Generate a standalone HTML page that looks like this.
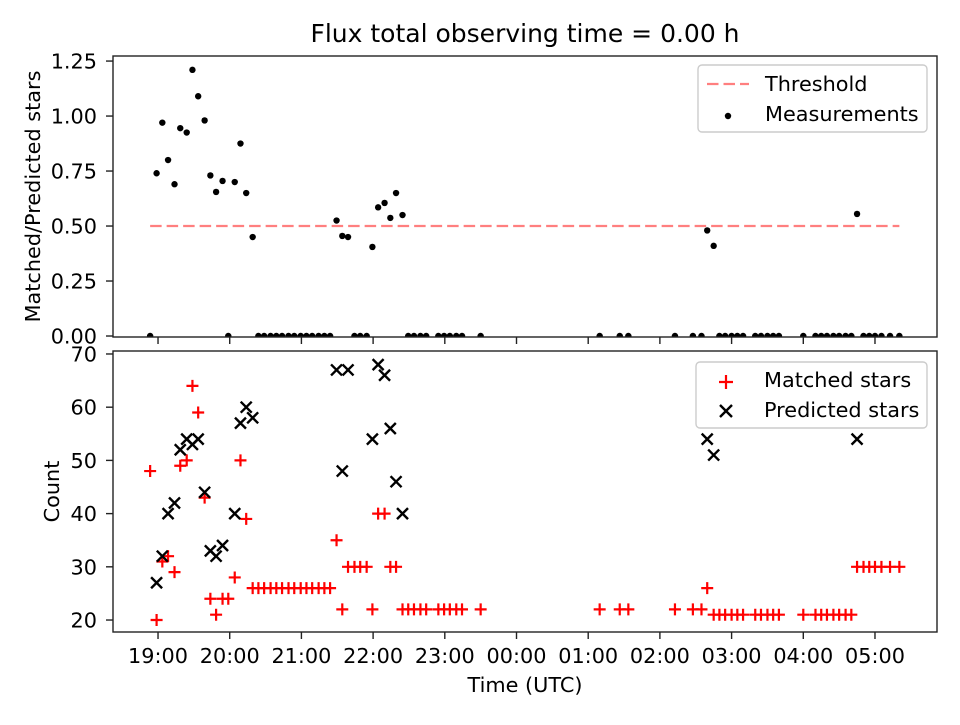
<!DOCTYPE html>
<html><head><meta charset="utf-8"><style>
body{margin:0;background:#fff}
svg{font-family:"DejaVu Sans","Liberation Sans",sans-serif}
</style></head><body>
<svg id="chart" width="960" height="720" xmlns="http://www.w3.org/2000/svg"></svg>
<script>
const times=[18.89,18.98,19.06,19.14,19.23,19.31,19.40,19.48,19.56,19.65,19.73,19.81,19.90,19.98,20.07,20.15,20.23,20.32,
20.40,20.48,20.57,20.65,20.73,20.82,20.90,20.99,21.07,21.15,21.24,21.32,21.40,
21.49,21.57,21.65,21.74,21.82,21.91,21.99,22.07,22.16,22.24,22.32,22.41,
22.49,22.57,22.66,22.74,22.91,22.99,23.07,23.16,23.24,23.50,
25.16,25.44,25.56,26.21,26.46,26.58,26.66,26.75,26.83,26.91,27.00,27.08,27.16,
27.33,27.41,27.50,27.58,27.66,28.00,28.17,28.25,28.33,28.42,28.50,28.59,28.67,
28.75,28.84,28.92,29.00,29.09,29.21,29.34];
const ratios=[0,0.74,0.97,0.80,0.69,0.945,0.925,1.21,1.09,0.98,0.73,0.655,0.705,0,0.70,0.875,0.65,0.45,
0,0,0,0,0,0,0,0,0,0,0,0,0,
0.525,0.455,0.45,0,0,0,0.405,0.585,0.605,0.537,0.65,0.55,
0,0,0,0,0,0,0,0,0,0,
0,0,0,0,0,0,0.48,0.41,0,0,0,0,0,
0,0,0,0,0,0,0,0,0,0,0,0,0,
0.555,0,0,0,0,0,0];
const matched=[48,20,31,32,29,49,50,64,59,43,24,21,24,24,28,50,39,26,
26,26,26,26,26,26,26,26,26,26,26,26,26,
35,22,30,30,30,30,22,40,40,30,30,22,
22,22,22,22,22,22,22,22,22,22,
22,22,22,22,22,22,26,21,21,21,21,21,21,
21,21,21,21,21,21,21,21,21,21,21,21,21,
30,30,30,30,30,30,30];
const predicted=[null,27,32,40,42,52,54,53,54,44,33,32,34,null,40,57,60,58,
null,null,null,null,null,null,null,null,null,null,null,null,null,
67,48,67,null,null,null,54,68,66,56,46,40,
null,null,null,null,null,null,null,null,null,null,
null,null,null,null,null,null,54,51,null,null,null,null,null,
null,null,null,null,null,null,null,null,null,null,null,null,null,
54,null,null,null,null,null,null];
const xTicks=[19,20,21,22,23,24,25,26,27,28,29];
const xTickLabels=["19:00","20:00","21:00","22:00","23:00","00:00","01:00","02:00","03:00","04:00","05:00"];
const topTicks=[0,0.25,0.5,0.75,1.0,1.25];
const topTickLabels=["0.00","0.25","0.50","0.75","1.00","1.25"];
const botTicks=[20,30,40,50,60,70];
const threshold=0.5;

const NS="http://www.w3.org/2000/svg";
const svg=document.getElementById('chart');
function mk(tag,attrs,parent){const e=document.createElementNS(NS,tag);for(const k in attrs)e.setAttribute(k,attrs[k]);(parent||svg).appendChild(e);return e;}
const L=113,R=937,T1=56,B1=337,T2=351,B2=632;
const xMin=18.372,xMax=29.865;
const X=t=>L+(t-xMin)/(xMax-xMin)*(R-L);
const Y1=v=>B1-(v-(-0.0045))/(1.273+0.0045)*(B1-T1);
const Y2=v=>B2-(v-17.75)/(70.56-17.75)*(B2-T2);
const FS=20.8;

const defs=mk('defs',{});
const c1=mk('clipPath',{id:'c1'},defs);mk('rect',{x:L,y:T1,width:R-L,height:B1-T1},c1);
const c2=mk('clipPath',{id:'c2'},defs);mk('rect',{x:L,y:T2,width:R-L,height:B2-T2},c2);

let t=mk('text',{x:525,y:42,'font-size':25,'text-anchor':'middle'});t.textContent='Flux total observing time = 0.00 h';



const g1=mk('g',{'clip-path':'url(#c1)'});


let th=mk('line',{x1:X(times[0]),x2:X(times[times.length-1]),y1:Y1(threshold),y2:Y1(threshold),stroke:'#ff7f7f','stroke-width':2.2,'stroke-dasharray':'11.5,5'},g1);


times.forEach((tm,i)=>{
  const c=mk('circle',{cx:X(tm),cy:Y1(ratios[i]),r:3.2,fill:'#000'},g1);
  
  
});
const g2=mk('g',{'clip-path':'url(#c2)'});


times.forEach((tm,i)=>{
  const x=X(tm),y=Y2(matched[i]);
  const p=mk('path',{d:`M${x-6},${y}H${x+6}M${x},${y-6}V${y+6}`,stroke:'#ff0000','stroke-width':2.2,fill:'none'},g2);
  
  
});
times.forEach((tm,i)=>{
  if(predicted[i]===null)return;
  const x=X(tm),y=Y2(predicted[i]);
  const p=mk('path',{d:`M${x-5.5},${y-5.5}L${x+5.5},${y+5.5}M${x-5.5},${y+5.5}L${x+5.5},${y-5.5}`,stroke:'#000','stroke-width':2.4,fill:'none'},g2);
  
  
});

[[T1,B1,'top-axes-frame'],[T2,B2,'bottom-axes-frame']].forEach(([a,b,n])=>{
  const r=mk('rect',{x:L,y:a,width:R-L,height:b-a,fill:'none',stroke:'#222','stroke-width':1.4});
  
  
});
xTicks.forEach((v,i)=>{
  const x=X(v);
  mk('line',{x1:x,x2:x,y1:B1,y2:B1+7,stroke:'#222','stroke-width':1.4});
  mk('line',{x1:x,x2:x,y1:B2,y2:B2+7,stroke:'#222','stroke-width':1.4});
  const tx=mk('text',{x:x,y:B2+31,'font-size':FS,'text-anchor':'middle'});tx.textContent=xTickLabels[i];
  
  
});
topTicks.forEach((v,i)=>{
  const y=Y1(v);
  mk('line',{x1:L-7,x2:L,y1:y,y2:y,stroke:'#222','stroke-width':1.4});
  const tx=mk('text',{x:L-16,y:y+7.5,'font-size':FS,'text-anchor':'end'});tx.textContent=topTickLabels[i];
  
  
});
botTicks.forEach(v=>{
  const y=Y2(v);
  mk('line',{x1:L-7,x2:L,y1:y,y2:y,stroke:'#222','stroke-width':1.4});
  const tx=mk('text',{x:L-16,y:y+7.5,'font-size':FS,'text-anchor':'end'});tx.textContent=String(v);
  
  
});
let a1=mk('text',{x:0,y:0,'font-size':FS,'text-anchor':'middle',transform:`translate(40,${(T1+B1)/2}) rotate(-90)`});a1.textContent='Matched/Predicted stars';


let a2=mk('text',{x:0,y:0,'font-size':FS,'text-anchor':'middle',transform:`translate(59,${(T2+B2)/2}) rotate(-90)`});a2.textContent='Count';


let a3=mk('text',{x:525,y:692,'font-size':FS,'text-anchor':'middle'});a3.textContent='Time (UTC)';



const lg1=mk('g',{});


mk('rect',{x:698,y:65,width:229,height:67,rx:4,fill:'#fff','fill-opacity':0.8,stroke:'#ccc','stroke-width':1.4},lg1);
mk('line',{x1:707,x2:749,y1:84,y2:84,stroke:'#ff7f7f','stroke-width':2.2,'stroke-dasharray':'11.5,5'},lg1);
let lt=mk('text',{x:765,y:91,'font-size':FS},lg1);lt.textContent='Threshold';
mk('circle',{cx:728,cy:116,r:3.2,fill:'#000'},lg1);
lt=mk('text',{x:765,y:121,'font-size':FS},lg1);lt.textContent='Measurements';
const lg2=mk('g',{});


mk('rect',{x:696,y:362,width:231,height:66,rx:4,fill:'#fff','fill-opacity':0.8,stroke:'#ccc','stroke-width':1.4},lg2);
mk('path',{d:'M719,382H733M726,375V389',stroke:'#ff0000','stroke-width':2.2},lg2);
lt=mk('text',{x:764,y:387,'font-size':FS},lg2);lt.textContent='Matched stars';
mk('path',{d:'M720,405L732,417M720,417L732,405',stroke:'#000','stroke-width':2.4},lg2);
lt=mk('text',{x:764,y:417,'font-size':FS},lg2);lt.textContent='Predicted stars';
</script>
</body></html>
